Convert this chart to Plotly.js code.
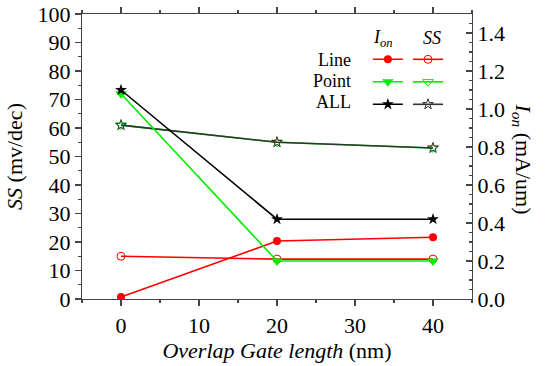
<!DOCTYPE html>
<html>
<head>
<meta charset="utf-8">
<script src="https://cdn.plot.ly/plotly-3.0.1.min.js"></script>
<style>
  html, body { margin: 0; padding: 0; background: #fff; }
  #chart { width: 559px; height: 366px; }
</style>
</head>
<body>
<div id="chart"></div>
<script>
// Overlap gate length (nm)
const gateLength = [0, 20, 40];

// Subthreshold swing SS (mV/dec)
const ssLine  = [15, 14, 14];
const ssPoint = [61, 55, 53];
const ssAll   = [61, 55, 53];

// On-current I_on (mA/um)
const ionLine  = [0.01, 0.305, 0.325];
const ionPoint = [1.08, 0.20, 0.20];
const ionAll   = [1.10, 0.42, 0.42];

const rowLabels = ['Line', 'Point', 'ALL'];

const RED = '#ff0000', GREEN = '#00ee00', BLACK = '#000000';
const SERIF = 'Liberation Serif';

function ionTrace(y, color, symbol, size) {
  return {
    x: gateLength, y: y, yaxis: 'y2', type: 'scatter', mode: 'lines+markers',
    name: ' ', legend: 'legend', showlegend: true,
    line: { color: color, width: 1.6 },
    marker: { color: color, symbol: symbol, size: size }
  };
}
function ssTrace(y, color, symbol, size) {
  return {
    x: gateLength, y: y, yaxis: 'y', type: 'scatter', mode: 'lines+markers',
    name: ' ', legend: 'legend2', showlegend: true,
    line: { color: color, width: 1.6 },
    marker: { color: color, symbol: symbol, size: size, line: { color: color, width: 1 } }
  };
}

const data = [
  ssTrace(ssLine,  RED,   'circle-open', 8),
  ssTrace(ssPoint, GREEN, 'triangle-down-open', 9),
  ssTrace(ssAll,   '#333', 'star-open', 8),
  ionTrace(ionLine,  RED,   'circle', 8),
  ionTrace(ionPoint, GREEN, 'triangle-down', 10),
  ionTrace(ionAll,   BLACK, 'star', 9)
];
// legend entries in row order Line, Point, ALL
data[0].legendrank = 1; data[1].legendrank = 2; data[2].legendrank = 3;
data[3].legendrank = 1; data[4].legendrank = 2; data[5].legendrank = 3;

const axisCommon = {
  showgrid: false, zeroline: false, showline: true,
  linecolor: '#444', linewidth: 1.2, tickcolor: '#444', tickwidth: 1.2,
  tickfont: { family: SERIF, size: 22, color: '#000' }
};

// row labels and column headers of the two-column legend
const rowY = [0.839, 0.765, 0.691];
const annotations = rowLabels.map((t, i) => ({
  text: t, xref: 'paper', yref: 'paper', x: 0.695, y: rowY[i],
  xanchor: 'right', yanchor: 'middle', showarrow: false,
  font: { family: SERIF, size: 18, color: '#000' }
}));
annotations.push(
  { text: '<i>I</i><sub><i>on</i></sub>', xref: 'paper', yref: 'paper', x: 0.772, y: 0.915,
    xanchor: 'center', yanchor: 'middle', showarrow: false,
    font: { family: SERIF, size: 18, color: '#000' } },
  { text: '<i>SS</i>', xref: 'paper', yref: 'paper', x: 0.897, y: 0.915,
    xanchor: 'center', yanchor: 'middle', showarrow: false,
    font: { family: SERIF, size: 18, color: '#000' } },
  { text: '<i>I</i><sub><i>on</i></sub> (mA/um)', xref: 'paper', yref: 'paper', x: 1.128, y: 0.49,
    xanchor: 'center', yanchor: 'middle', showarrow: false, textangle: 90,
    font: { family: SERIF, size: 22, color: '#000' } }
);

const layout = {
  width: 559, height: 366,
  margin: { l: 82, r: 87, t: 14, b: 67 },
  paper_bgcolor: '#fff', plot_bgcolor: '#fff',
  font: { family: SERIF, color: '#000' },
  xaxis: Object.assign({}, axisCommon, {
    range: [-5, 45], dtick: 10, tick0: 0, ticks: 'outside', ticklen: 6,
    mirror: 'ticks',
    minor: { dtick: 5, ticks: 'outside', ticklen: 3, tickcolor: '#444' },
    title: { text: '<i>Overlap Gate length</i> (nm)', font: { family: SERIF, size: 22 }, standoff: 4 }
  }),
  yaxis: Object.assign({}, axisCommon, {
    range: [0, 100], dtick: 10, ticks: 'outside', ticklen: 6,
    minor: { dtick: 5, ticks: 'outside', ticklen: 3, tickcolor: '#444' },
    title: { text: '<i>SS</i> (mv/dec)', font: { family: SERIF, size: 22 }, standoff: 8 }
  }),
  yaxis2: Object.assign({}, axisCommon, {
    overlaying: 'y', side: 'right', range: [0, 1.5], dtick: 0.2, tickformat: '.1f',
    ticks: 'inside', ticklen: 6,
    minor: { dtick: 0.05, ticks: 'inside', ticklen: 3, tickcolor: '#444' }
  }),
  legend: {
    x: 0.733, y: 0.898, xanchor: 'left', yanchor: 'top',
    bgcolor: 'rgba(0,0,0,0)', borderwidth: 0, itemwidth: 30,
    font: { family: SERIF, size: 15 }, traceorder: 'normal', tracegroupgap: 0
  },
  legend2: {
    x: 0.836, y: 0.898, xanchor: 'left', yanchor: 'top',
    bgcolor: 'rgba(0,0,0,0)', borderwidth: 0, itemwidth: 30,
    font: { family: SERIF, size: 15 }, traceorder: 'normal', tracegroupgap: 0
  },
  annotations: annotations,
  showlegend: true
};

Plotly.newPlot('chart', data, layout, { displayModeBar: false, staticPlot: true });
</script>
</body>
</html>
